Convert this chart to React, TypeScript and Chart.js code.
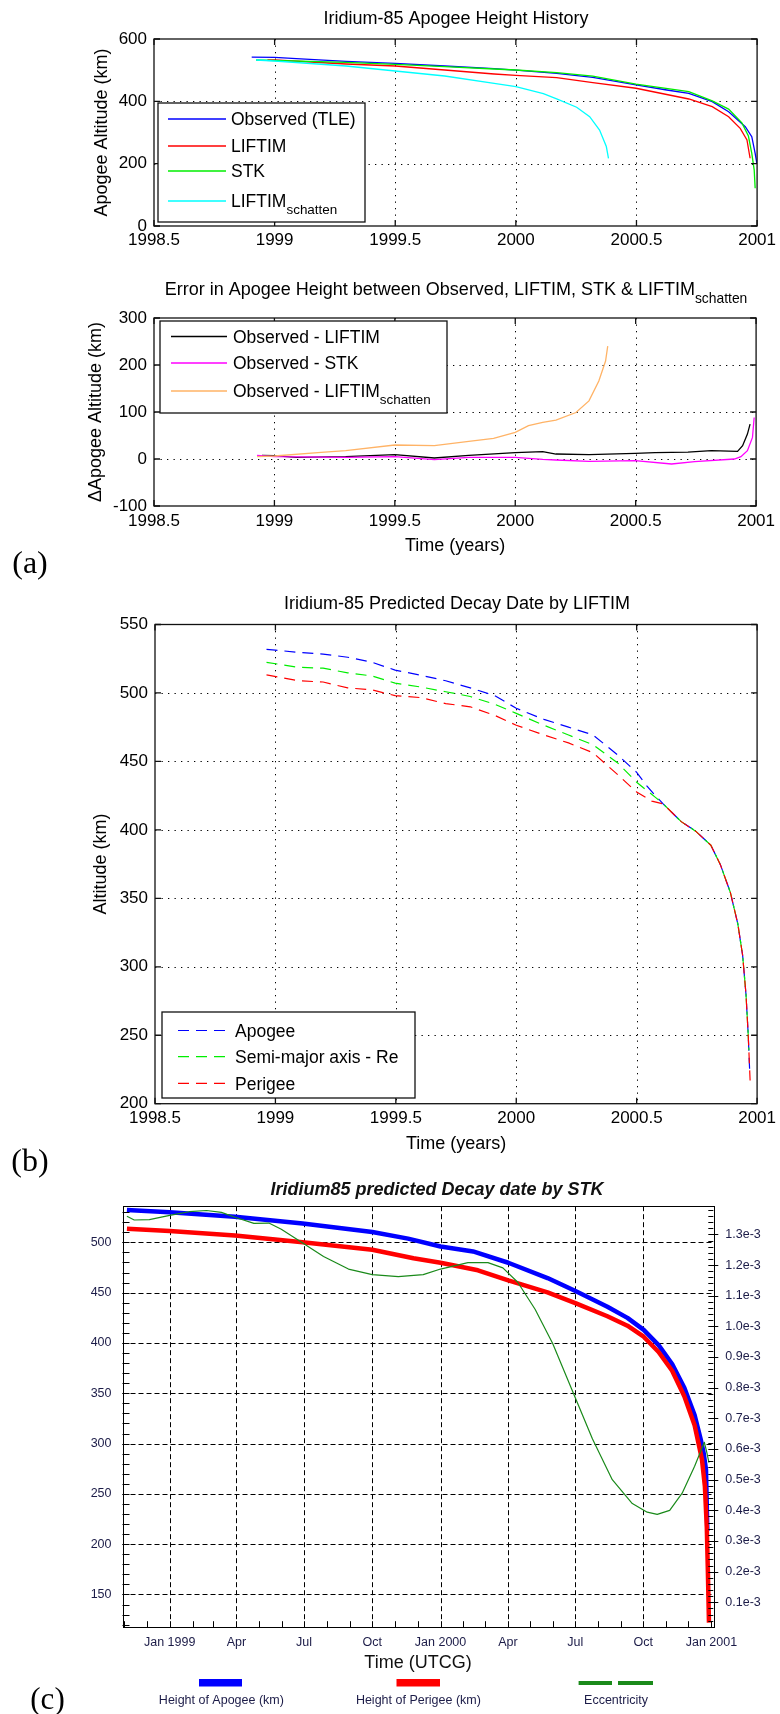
import React, { useEffect, useRef } from "react";
import { Chart, registerables } from "chart.js";

Chart.register(...registerables);

const W = 780;
const SANS = '"Liberation Sans", Arial, Helvetica, sans-serif';
const SERIF = '"Liberation Serif", "Times New Roman", Times, serif';

// ===================== DATA =====================
const yearTicks = [1998.5, 1999, 1999.5, 2000, 2000.5, 2001];

// (a) upper – apogee height history
const apogeeAltTicks = [0, 200, 400, 600];
const obsTleT = [1998.905, 1999.0, 1999.09, 1999.296, 1999.5, 1999.705, 1999.91, 2000.0, 2000.169, 2000.319, 2000.498, 2000.626, 2000.717, 2000.814, 2000.882, 2000.951, 2000.978, 2000.992, 2000.999];
const obsTleV = [542, 541, 536.9, 528.3, 521.9, 513.4, 504.8, 500, 490, 477, 453, 436.4, 425.8, 398.9, 366.7, 318.6, 286.7, 233.3, 201];
const liftimT = [1998.97, 1999.0, 1999.296, 1999.5, 1999.705, 1999.91, 2000.0, 2000.169, 2000.319, 2000.498, 2000.717, 2000.814, 2000.882, 2000.93, 2000.958, 2000.971];
const liftimV = [533, 532.6, 519.8, 513.4, 500.5, 487.7, 483, 476, 460, 442, 407.5, 382.8, 350.7, 313.4, 276, 217.4];
const stkT = [1998.923, 1999.296, 1999.5, 1999.705, 1999.91, 2000.0, 2000.169, 2000.319, 2000.498, 2000.717, 2000.814, 2000.882, 2000.937, 2000.964, 2000.978, 2000.988, 2000.992];
const stkV = [532.6, 525.1, 518.7, 511.2, 503.7, 500.5, 492, 481, 455, 431, 401.5, 375, 331, 288.6, 233, 180, 121];
const schattenT = [1998.923, 1999.0, 1999.296, 1999.5, 1999.705, 1999.91, 2000.0, 2000.114, 2000.169, 2000.252, 2000.306, 2000.347, 2000.375, 2000.384];
const schattenV = [532.6, 529.4, 513.4, 497.3, 481.3, 457.8, 447, 425, 408, 381, 351, 308, 255, 217];

// (a) lower – errors
const errTicks = [-100, 0, 100, 200, 300];
const errLiftimT = [1998.948, 1999.0, 1999.09, 1999.296, 1999.5, 1999.664, 1999.807, 2000.0, 2000.114, 2000.169, 2000.306, 2000.498, 2000.58, 2000.717, 2000.814, 2000.923, 2000.944, 2000.964, 2000.975];
const errLiftimV = [7.8, 7.1, 3.5, 5, 9.2, 2.1, 7.8, 13.5, 15.6, 10.6, 9.2, 12, 13.4, 14.8, 17.7, 16.3, 28.3, 53, 74.2];
const errStkT = [1998.928, 1999.0, 1999.296, 1999.5, 1999.664, 1999.807, 2000.0, 2000.114, 2000.169, 2000.306, 2000.498, 2000.649, 2000.745, 2000.91, 2000.937, 2000.964, 2000.985, 2000.992];
const errStkV = [7.8, 5, 3.5, 5, -1.4, 3.5, 3.5, -0.7, -2.1, -5, -3.5, -10.6, -5.7, 0, 5, 17.7, 46, 88.3];
const errSchT = [1998.928, 1999.0, 1999.194, 1999.296, 1999.5, 1999.664, 1999.807, 1999.91, 2000.0, 2000.055, 2000.114, 2000.169, 2000.252, 2000.306, 2000.347, 2000.375, 2000.384];
const errSchV = [5, 6.4, 14.2, 17.7, 29.8, 28.4, 37.6, 44, 56.7, 70.9, 78, 82.7, 98.9, 123.7, 166, 208.5, 240];

// (b) – LIFTIM predicted decay
const altTicks = [200, 250, 300, 350, 400, 450, 500, 550];
const bApoT = [1998.963, 1999.0, 1999.096, 1999.198, 1999.3, 1999.401, 1999.497, 1999.605, 1999.707, 1999.809, 1999.911, 2000.0, 2000.115, 2000.217, 2000.319, 2000.42, 2000.5, 2000.543, 2000.583, 2000.61, 2000.685, 2000.746, 2000.808, 2000.848, 2000.889, 2000.92, 2000.94, 2000.954, 2000.963, 2000.969];
const bApoV = [531.9, 531.3, 529.6, 528.4, 526.1, 522.4, 516.7, 512.9, 508.9, 503.7, 498, 488.8, 480.7, 475, 469.3, 454.9, 442, 431.9, 424, 419, 406, 398.9, 388.8, 374.4, 354.3, 331.3, 308.3, 279.6, 250.9, 225];
const bSmaT = [1998.963, 1999.096, 1999.198, 1999.3, 1999.401, 1999.497, 1999.605, 1999.707, 1999.809, 1999.911, 2000.0, 2000.115, 2000.217, 2000.319, 2000.42, 2000.5, 2000.583, 2000.61, 2000.685, 2000.746, 2000.808, 2000.848, 2000.889, 2000.92, 2000.94, 2000.954, 2000.963, 2000.966];
const bSmaV = [522.4, 518.7, 518.1, 514.7, 512.4, 507.2, 504.3, 500.9, 497.4, 491.7, 485.1, 476.4, 469.3, 462.1, 449.1, 434.8, 423, 419, 406, 398.9, 388.8, 374.4, 354.3, 331.3, 308.3, 279.6, 250.9, 239];
const bPerT = [1998.963, 1999.096, 1999.198, 1999.3, 1999.401, 1999.497, 1999.605, 1999.707, 1999.809, 1999.911, 2000.0, 2000.115, 2000.217, 2000.319, 2000.42, 2000.5, 2000.563, 2000.61, 2000.685, 2000.746, 2000.808, 2000.848, 2000.889, 2000.92, 2000.94, 2000.954, 2000.963, 2000.971];
const bPerV = [513.2, 508.9, 508, 503.7, 502.3, 498, 496.6, 492.2, 489.9, 483.6, 476.4, 469.3, 463.5, 456.3, 440.5, 427.6, 421, 419, 406, 398.9, 388.8, 374.4, 354.3, 331.3, 308.3, 279.6, 250.9, 216.9];

// (c) – STK predicted decay
const stkTickMonths = ["1999-01", "1999-04", "1999-07", "1999-10", "2000-01", "2000-04", "2000-07", "2000-10", "2001-01"];
const stkTickLabels = ["Jan 1999", "Apr", "Jul", "Oct", "Jan 2000", "Apr", "Jul", "Oct", "Jan 2001"];
const stkAltTicks = [150, 200, 250, 300, 350, 400, 450, 500];
const eccTicks = [0.1, 0.2, 0.3, 0.4, 0.5, 0.6, 0.7, 0.8, 0.9, 1.0, 1.1, 1.2, 1.3];
const cApoT = [1998.842, 1999.0, 1999.241, 1999.491, 1999.748, 1999.88, 2000.0, 2000.12, 2000.25, 2000.395, 2000.5, 2000.616, 2000.69, 2000.75, 2000.805, 2000.855, 2000.9, 2000.938, 2000.96, 2000.971, 2000.98, 2000.985];
const cApoV = [532.2, 529.8, 525.4, 518.6, 510.2, 503.7, 495.9, 490.9, 479.7, 464.5, 451.3, 436, 424.9, 413, 397.8, 379.1, 355.4, 328.4, 304.7, 291.1, 274.2, 213];
const cPerT = [1998.842, 1999.0, 1999.241, 1999.491, 1999.748, 1999.9, 2000.0, 2000.138, 2000.25, 2000.395, 2000.5, 2000.616, 2000.69, 2000.75, 2000.805, 2000.855, 2000.9, 2000.938, 2000.965, 2000.976, 2000.983, 2000.987, 2000.991];
const cPerV = [513.5, 511.2, 506.8, 500, 492.6, 484.1, 479.7, 472.2, 462.1, 450.2, 439.4, 426.5, 417.1, 406.2, 391, 372.4, 347, 318.2, 284.4, 257.3, 216.7, 172.7, 122];
const cEccT = [1998.842, 1998.869, 1998.925, 1999.0, 1999.072, 1999.136, 1999.191, 1999.241, 1999.311, 1999.366, 1999.412, 1999.491, 1999.568, 1999.66, 1999.748, 1999.844, 1999.936, 2000.0, 2000.101, 2000.175, 2000.23, 2000.285, 2000.349, 2000.414, 2000.487, 2000.561, 2000.634, 2000.708, 2000.763, 2000.8, 2000.846, 2000.892, 2000.938, 2000.974, 2000.983, 2000.991];
const cEccE3 = [1.359, 1.347, 1.348, 1.362, 1.374, 1.378, 1.372, 1.356, 1.336, 1.337, 1.317, 1.272, 1.228, 1.187, 1.169, 1.162, 1.169, 1.187, 1.208, 1.208, 1.191, 1.144, 1.056, 0.944, 0.789, 0.633, 0.5, 0.422, 0.394, 0.387, 0.4, 0.456, 0.544, 0.622, 0.589, 0.556];

// ===================== HELPERS =====================
function decYear(ym: string) {
  const [y, m] = ym.split("-").map(Number);
  const d0 = Date.UTC(y, 0, 1), d1 = Date.UTC(y + 1, 0, 1), dm = Date.UTC(y, m - 1, 1);
  return y + (dm - d0) / (d1 - d0);
}

function pts(t: number[], v: number[]) {
  return t.map((x, i) => ({ x, y: v[i] }));
}

function richText(ctx: any, text: string, x: number, y: number, size: number, align: string, o: any = {}) {
  const weight = o.weight || "normal", style = o.style || "normal", color = o.color || "#000", family = o.family || SANS;
  const parts = text.split("_");
  const main = parts[0], sub = parts[1] || "";
  const subSize = size * 0.77;
  const mf = `${style} ${weight} ${size}px ${family}`;
  const sf = `${style} ${weight} ${subSize}px ${family}`;
  ctx.font = mf;
  const mw = ctx.measureText(main).width;
  ctx.font = sf;
  const sw = sub ? ctx.measureText(sub).width : 0;
  const x0 = align === "center" ? x - (mw + sw) / 2 : x;
  const base = y + size * 0.36;
  ctx.fillStyle = color;
  ctx.textAlign = "left";
  ctx.textBaseline = "alphabetic";
  ctx.font = mf;
  ctx.fillText(main, x0, base);
  if (sub) {
    ctx.font = sf;
    ctx.fillText(sub, x0 + mw, base + size * 0.4);
  }
}

function makeMatlab(canvas: HTMLCanvasElement, p: any) {
  const XH = Math.min(30, p.height - p.area.b);
  const plugin = {
    id: "matlabDecor",
    beforeDatasetsDraw(chart: any) {
      const { ctx, chartArea: a } = chart;
      const sx = chart.scales.x, sy = chart.scales.y;
      ctx.save();
      ctx.strokeStyle = "#000";
      ctx.lineWidth = 1;
      ctx.setLineDash([1.3, 5.2]);
      ctx.beginPath();
      for (const v of p.xTicks) {
        const px = Math.round(sx.getPixelForValue(v)) + 0.5;
        if (px < a.left + 2 || px > a.right - 2) continue;
        ctx.moveTo(px, a.top);
        ctx.lineTo(px, a.bottom);
      }
      for (const v of p.yTicks) {
        const py = Math.round(sy.getPixelForValue(v)) + 0.5;
        if (py < a.top + 2 || py > a.bottom - 2) continue;
        ctx.moveTo(a.left, py);
        ctx.lineTo(a.right, py);
      }
      ctx.stroke();
      ctx.restore();
    },
    afterDatasetsDraw(chart: any) {
      const { ctx, chartArea: a } = chart;
      const sx = chart.scales.x, sy = chart.scales.y;
      ctx.save();
      ctx.setLineDash([]);
      ctx.strokeStyle = "#111";
      ctx.lineWidth = 1.3;
      ctx.strokeRect(a.left, a.top, a.right - a.left, a.bottom - a.top);
      ctx.beginPath();
      for (const v of p.xTicks) {
        const px = sx.getPixelForValue(v);
        ctx.moveTo(px, a.bottom);
        ctx.lineTo(px, a.bottom - 6);
        ctx.moveTo(px, a.top);
        ctx.lineTo(px, a.top + 6);
      }
      for (const v of p.yTicks) {
        const py = sy.getPixelForValue(v);
        ctx.moveTo(a.left, py);
        ctx.lineTo(a.left + 6, py);
        ctx.moveTo(a.right, py);
        ctx.lineTo(a.right - 6, py);
      }
      ctx.stroke();
      // legend
      const L = p.legend;
      ctx.fillStyle = "#fff";
      ctx.fillRect(L.x, L.y, L.w, L.h);
      ctx.strokeStyle = "#111";
      ctx.lineWidth = 1.3;
      ctx.strokeRect(L.x, L.y, L.w, L.h);
      chart.data.datasets.forEach((ds: any, i: number) => {
        const ry = L.rows[i];
        ctx.strokeStyle = ds.borderColor;
        ctx.lineWidth = ds.borderWidth;
        ctx.setLineDash(ds.borderDash || []);
        ctx.beginPath();
        ctx.moveTo(L.lx1, ry);
        ctx.lineTo(L.lx2, ry);
        ctx.stroke();
        ctx.setLineDash([]);
        richText(ctx, ds.label, L.tx, ry, 17.5, "left");
      });
      ctx.restore();
    },
    afterDraw(chart: any) {
      const { ctx, chartArea: a } = chart;
      ctx.save();
      richText(ctx, p.title, p.titleX, p.titleY, 18, "center");
      ctx.save();
      ctx.translate(p.yTitleX, (a.top + a.bottom) / 2);
      ctx.rotate(-Math.PI / 2);
      richText(ctx, p.yTitle, 0, 0, 18, "center");
      ctx.restore();
      if (p.xTitle) richText(ctx, p.xTitle, (a.left + a.right) / 2, p.xTitleY, 18, "center");
      if (p.label) richText(ctx, p.label, p.labelX, p.labelY, 32, "center", { family: SERIF });
      ctx.restore();
    },
  };
  const tickFont = { family: SANS, size: 17 };
  return new Chart(canvas, {
    type: "line",
    data: {
      datasets: p.series.map((s: any, i: number) => ({
        label: s.label,
        data: pts(s.t, s.v),
        borderColor: s.color,
        borderWidth: s.width,
        borderDash: s.dash || [],
        pointRadius: 0,
        fill: false,
        tension: 0,
        order: -i,
      })),
    },
    options: {
      animation: false,
      responsive: false,
      devicePixelRatio: 1,
      events: [],
      layout: { padding: { left: 0, top: p.area.t, right: W - p.area.r, bottom: p.height - p.area.b - XH } },
      plugins: { legend: { display: false }, tooltip: { enabled: false }, title: { display: false } },
      scales: {
        x: {
          type: "linear",
          min: p.xTicks[0],
          max: p.xTicks[p.xTicks.length - 1],
          afterBuildTicks: (s: any) => { s.ticks = p.xTicks.map((value: number) => ({ value })); },
          afterFit: (s: any) => { s.height = XH; },
          grid: { display: false, drawTicks: false },
          border: { display: false },
          ticks: { autoSkip: false, maxRotation: 0, padding: p.xTickPad, font: tickFont, color: "#000", callback: (v: any) => String(v) },
        },
        y: {
          type: "linear",
          min: p.yTicks[0],
          max: p.yTicks[p.yTicks.length - 1],
          afterBuildTicks: (s: any) => { s.ticks = p.yTicks.map((value: number) => ({ value })); },
          afterFit: (s: any) => { s.width = p.area.l; },
          grid: { display: false, drawTicks: false },
          border: { display: false },
          ticks: { autoSkip: false, padding: 7, font: tickFont, color: "#000", callback: (v: any) => String(v) },
        },
      },
    } as any,
    plugins: [plugin as any],
  });
}

// ===================== PANEL CONFIGS =====================
const panelA1 = {
  height: 250,
  area: { l: 154, t: 39, r: 762, b: 226 },
  xTicks: yearTicks,
  yTicks: apogeeAltTicks,
  xTickPad: 4,
  series: [
    { label: "Observed (TLE)", t: obsTleT, v: obsTleV, color: "#0000ff", width: 1.3 },
    { label: "LIFTIM", t: liftimT, v: liftimV, color: "#ff0000", width: 1.3 },
    { label: "STK", t: stkT, v: stkV, color: "#00ee00", width: 1.3 },
    { label: "LIFTIM_schatten", t: schattenT, v: schattenV, color: "#00ffff", width: 1.3 },
  ],
  title: "Iridium-85 Apogee Height History",
  titleX: 456,
  titleY: 18,
  yTitle: "Apogee Altitude (km)",
  yTitleX: 101,
  legend: { x: 158, y: 103, w: 207, h: 119, rows: [119, 146, 171, 201], lx1: 168, lx2: 226, tx: 231 },
};

const panelA2 = {
  height: 330,
  area: { l: 154, t: 68, r: 762, b: 256 },
  xTicks: yearTicks,
  yTicks: errTicks,
  xTickPad: 5,
  series: [
    { label: "Observed - LIFTIM", t: errLiftimT, v: errLiftimV, color: "#000000", width: 1.3 },
    { label: "Observed - STK", t: errStkT, v: errStkV, color: "#ff00ff", width: 1.3 },
    { label: "Observed - LIFTIM_schatten", t: errSchT, v: errSchV, color: "#ffb366", width: 1.3 },
  ],
  title: "Error in Apogee Height between Observed, LIFTIM, STK & LIFTIM_schatten",
  titleX: 456,
  titleY: 39,
  yTitle: "\u0394Apogee Altitude (km)",
  yTitleX: 95,
  xTitle: "Time (years)",
  xTitleY: 295,
  label: "(a)",
  labelX: 30,
  labelY: 311,
  legend: { x: 160, y: 71, w: 287, h: 92, rows: [86.5, 113, 141], lx1: 171, lx2: 227, tx: 233 },
};

const panelB = {
  height: 612,
  area: { l: 155, t: 44.5, r: 762, b: 523.7 },
  xTicks: yearTicks,
  yTicks: altTicks,
  xTickPad: 4,
  series: [
    { label: "Apogee", t: bApoT, v: bApoV, color: "#0000ff", width: 1.2, dash: [11, 7] },
    { label: "Semi-major axis - Re", t: bSmaT, v: bSmaV, color: "#00ee00", width: 1.2, dash: [11, 7] },
    { label: "Perigee", t: bPerT, v: bPerV, color: "#ff0000", width: 1.2, dash: [11, 7] },
  ],
  title: "Iridium-85 Predicted Decay Date by LIFTIM",
  titleX: 457,
  titleY: 22.7,
  yTitle: "Altitude (km)",
  yTitleX: 100,
  xTitle: "Time (years)",
  xTitleY: 563,
  label: "(b)",
  labelX: 30,
  labelY: 579,
  legend: { x: 162, y: 432, w: 253, h: 86, rows: [450.5, 476.7, 503.3], lx1: 178, lx2: 229, tx: 235 },
};

// ===================== STK CHART =====================
function makeStk(canvas: HTMLCanvasElement) {
  const H = 542;
  const area = { l: 122.5, t: 34.2, r: 713.3, b: 455.2 };
  const XH = 40;
  const xMin = 1998.8257, xMax = 2001.007;
  const quarterVals = stkTickMonths.map(decYear);
  const monthVals: number[] = [];
  for (let y = 1998; y <= 2001; y++) {
    for (let m = 1; m <= 12; m++) {
      const v = decYear(`${y}-${String(m).padStart(2, "0")}`);
      if (v >= xMin && v <= xMax) monthVals.push(v);
    }
  }
  const textColor = "#1c1c48";
  const plugin = {
    id: "stkDecor",
    beforeDatasetsDraw(chart: any) {
      const { ctx, chartArea: a } = chart;
      const sx = chart.scales.x, sy = chart.scales.y;
      ctx.save();
      ctx.strokeStyle = "#000";
      ctx.lineWidth = 1;
      ctx.setLineDash([5, 3]);
      ctx.beginPath();
      for (const v of quarterVals) {
        const px = Math.round(sx.getPixelForValue(v)) + 0.5;
        if (px < a.left + 2 || px > a.right - 2) continue;
        ctx.moveTo(px, a.top);
        ctx.lineTo(px, a.bottom);
      }
      for (const v of stkAltTicks) {
        const py = Math.round(sy.getPixelForValue(v)) + 0.5;
        ctx.moveTo(a.left, py);
        ctx.lineTo(a.right, py);
      }
      ctx.stroke();
      ctx.restore();
    },
    afterDatasetsDraw(chart: any) {
      const { ctx, chartArea: a } = chart;
      const sx = chart.scales.x, sy = chart.scales.y, sy1 = chart.scales.y1;
      ctx.save();
      ctx.setLineDash([]);
      ctx.strokeStyle = "#000";
      ctx.lineWidth = 1;
      ctx.strokeRect(Math.round(a.left) + 0.5, Math.round(a.top) + 0.5, Math.round(a.right - a.left), Math.round(a.bottom - a.top));
      ctx.beginPath();
      for (const v of monthVals) {
        const px = Math.round(sx.getPixelForValue(v)) + 0.5;
        ctx.moveTo(px, a.bottom);
        ctx.lineTo(px, a.bottom - 6);
      }
      for (let v = 120; v <= 530; v += 10) {
        const py = Math.round(sy.getPixelForValue(v)) + 0.5;
        ctx.moveTo(a.left, py);
        ctx.lineTo(a.left + 7, py);
      }
      for (let k = 1; k <= 69; k++) {
        const v = k * 0.02;
        if (v > 1.39) break;
        const py = Math.round(sy1.getPixelForValue(v)) + 0.5;
        const major = k % 5 === 0;
        ctx.moveTo(a.right - 5, py);
        ctx.lineTo(major ? a.right + 5 : a.right, py);
      }
      ctx.stroke();
      ctx.restore();
    },
    afterDraw(chart: any) {
      const { ctx } = chart;
      ctx.save();
      richText(ctx, "Iridium85 predicted Decay date by STK", 437, 16.5, 18, "center", { weight: "bold", style: "italic", color: "#111" });
      richText(ctx, "Time (UTCG)", 418, 490, 18, "center", { color: "#111" });
      const ds = chart.data.datasets;
      // legend
      ctx.fillStyle = ds[0].borderColor;
      ctx.fillRect(199, 507, 43, 7.5);
      ctx.fillStyle = ds[1].borderColor;
      ctx.fillRect(396.5, 507, 43.5, 7.5);
      ctx.fillStyle = ds[2].borderColor;
      ctx.fillRect(578.6, 509, 33.4, 4);
      ctx.fillRect(618, 509, 35, 4);
      richText(ctx, ds[0].label, 221.4, 527.4, 12.5, "center", { color: textColor });
      richText(ctx, ds[1].label, 418.4, 527.4, 12.5, "center", { color: textColor });
      richText(ctx, ds[2].label, 616, 527.4, 12.5, "center", { color: textColor });
      richText(ctx, "(c)", 47.5, 525.7, 31, "center", { family: SERIF });
      ctx.restore();
    },
  };
  const tickFont = { family: SANS, size: 12.5 };
  return new Chart(canvas, {
    type: "line",
    data: {
      datasets: [
        { label: "Height of Apogee (km)", data: pts(cApoT, cApoV), borderColor: "#0000ff", borderWidth: 4.5, yAxisID: "y", order: 0 },
        { label: "Height of Perigee (km)", data: pts(cPerT, cPerV), borderColor: "#ff0000", borderWidth: 4.5, yAxisID: "y", order: -1 },
        { label: "Eccentricity", data: pts(cEccT, cEccE3), borderColor: "#1a8a1a", borderWidth: 1.2, yAxisID: "y1", order: -2 },
      ].map((d: any) => ({ ...d, pointRadius: 0, fill: false, tension: 0, borderJoinStyle: "round", borderCapStyle: "butt" })),
    },
    options: {
      animation: false,
      responsive: false,
      devicePixelRatio: 1,
      events: [],
      layout: { padding: { left: 0, top: area.t, right: 0, bottom: H - area.b - XH } },
      plugins: { legend: { display: false }, tooltip: { enabled: false }, title: { display: false } },
      scales: {
        x: {
          type: "linear",
          min: xMin,
          max: xMax,
          afterBuildTicks: (s: any) => { s.ticks = quarterVals.map((value: number) => ({ value })); },
          afterFit: (s: any) => { s.height = XH; },
          grid: { display: false, drawTicks: false },
          border: { display: false },
          ticks: { autoSkip: false, maxRotation: 0, padding: 8, font: tickFont, color: textColor, callback: (_v: any, i: number) => stkTickLabels[i] },
        },
        y: {
          type: "linear",
          position: "left",
          min: 117.5,
          max: 535.9,
          afterBuildTicks: (s: any) => { s.ticks = stkAltTicks.map((value: number) => ({ value })); },
          afterFit: (s: any) => { s.width = area.l; },
          grid: { display: false, drawTicks: false },
          border: { display: false },
          ticks: { autoSkip: false, padding: 11, font: tickFont, color: textColor, callback: (v: any) => String(v) },
        },
        y1: {
          type: "linear",
          position: "right",
          min: 0.0188,
          max: 1.392,
          afterBuildTicks: (s: any) => { s.ticks = eccTicks.map((value: number) => ({ value })); },
          afterFit: (s: any) => { s.width = W - area.r; },
          grid: { display: false, drawTicks: false },
          border: { display: false },
          ticks: { autoSkip: false, padding: 12, font: tickFont, color: textColor, callback: (v: any) => `${Number(v).toFixed(1)}e-3` },
        },
      },
    } as any,
    plugins: [plugin as any],
  });
}

// ===================== COMPONENTS =====================
function ChartBox({ top, height, make }: { top: number; height: number; make: (c: HTMLCanvasElement) => Chart }) {
  const ref = useRef<HTMLCanvasElement>(null);
  useEffect(() => {
    const chart = make(ref.current as HTMLCanvasElement);
    return () => chart.destroy();
  }, []);
  return (
    <canvas
      ref={ref}
      width={W}
      height={height}
      style={{ position: "absolute", left: 0, top, width: W, height, display: "block" }}
    />
  );
}

export default function App() {
  return (
    <div style={{ position: "absolute", left: 0, top: 0, width: W, height: 1714, background: "#fff", overflow: "hidden" }}>
      <ChartBox top={0} height={250} make={(c) => makeMatlab(c, panelA1)} />
      <ChartBox top={250} height={330} make={(c) => makeMatlab(c, panelA2)} />
      <ChartBox top={580} height={612} make={(c) => makeMatlab(c, panelB)} />
      <ChartBox top={1172} height={542} make={(c) => makeStk(c)} />
    </div>
  );
}
